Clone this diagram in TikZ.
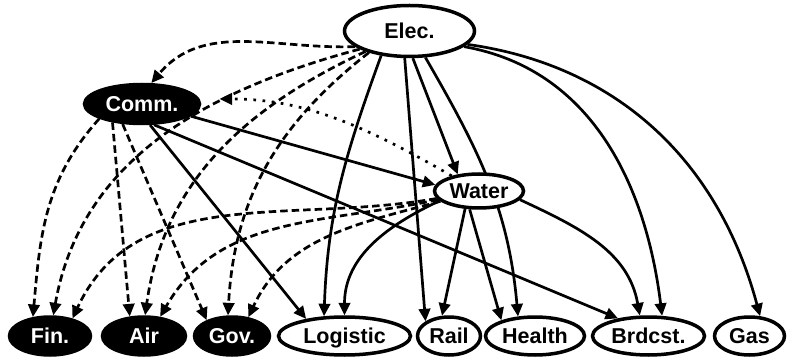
\documentclass[tikz,border=0pt]{standalone}
\usepackage{fontspec}
\setmainfont{Liberation Sans}
\usetikzlibrary{arrows.meta,shapes.geometric,backgrounds}
\begin{document}
\begin{tikzpicture}[x=1pt,y=1pt,
  nd/.style={ellipse,draw=black,line width=3.5pt,inner sep=0pt,
    text height=19.4pt,text depth=4pt,
    font=\bfseries\fontsize{21.5}{22}\selectfont},
  wn/.style={nd,fill=white,text=black},
  bn/.style={nd,fill=black,text=white},
  ed/.style={line width=2.7pt,-{Triangle[length=12.5pt,width=11.5pt]}},
  dsh/.style={ed,dash pattern=on 7.5pt off 4pt},
  dotedge/.style={ed,dash pattern=on 2.7pt off 6.5pt}]
\useasboundingbox (0,0) rectangle (787,-358);

\node[wn,minimum width=130pt,minimum height=51pt] (elec) at (409.5,-31) {Elec.};
\node[bn,minimum width=115pt,minimum height=39pt] (comm) at (142,-104) {Comm.};
\node[wn,minimum width=89pt,minimum height=34pt] (water) at (479,-191) {Water};
\node[bn,minimum width=81pt,minimum height=38pt] (fin) at (50,-336) {Fin.};
\node[bn,minimum width=83pt,minimum height=38pt] (air) at (144,-336) {Air};
\node[bn,minimum width=75pt,minimum height=38pt] (gov) at (232,-336) {Gov.};
\node[wn,minimum width=132pt,minimum height=38pt] (logistic) at (344.5,-336) {Logistic};
\node[wn,minimum width=63pt,minimum height=38pt] (rail) at (449,-336) {Rail};
\node[wn,minimum width=99pt,minimum height=38pt] (health) at (535,-336) {Health};
\node[wn,minimum width=112pt,minimum height=38pt] (brdcst) at (648.5,-336) {Brdcst.};
\node[wn,minimum width=70pt,minimum height=38pt] (gas) at (749.5,-336) {Gas};

\begin{pgfonlayer}{background}
% from Elec.
\draw[dsh] (elec.196) to[out=182,in=50] (comm.66);
\draw[dsh] (elec.200) to[out=195,in=80] (fin.81);
\draw[dsh] (elec.205) to[out=205,in=82] (air.87);
\draw[dsh] (elec.208) to[out=218,in=87] (gov.101);
\draw[ed] (elec.221) to[out=250,in=88] (logistic.136);
\draw[ed] (elec.260) -- (rail.148);
\draw[ed] (elec.277) -- (water.142);
\draw[ed] (elec.301) to[out=300,in=95] (health.131);
\draw[ed] (elec.344) to[out=350,in=97] (brdcst.56);
\draw[ed] (elec.347) to[out=352,in=105] (gas.62);
% from Comm.
\draw[dsh] (comm.199) to[out=228,in=85] (fin.132);
\draw[dsh] (comm.212) -- (air.126);
\draw[dsh] (comm.226) -- (gov.148);
\draw[ed] (comm.291) -- (logistic.156);
\draw[ed] (comm.346) -- (water.172);
\draw[ed] (comm.300) -- (brdcst.150);
% from Water
\draw[dotedge,shorten >=20pt] (water.151) to[out=150,in=0] (comm.5);
\draw[dsh] (water.190) to[out=190,in=65] (fin.38);
\draw[dsh] (water.192) to[out=192,in=60] (air.50);
\draw[dsh] (water.195) to[out=195,in=65] (gov.49);
\draw[ed] (water.194) to[out=205,in=90] (logistic.90);
\draw[ed] (water.232) -- (rail.109);
\draw[ed] (water.243) -- (health.155);
\draw[ed] (water.348) to[out=335,in=100] (brdcst.113);
\end{pgfonlayer}
\end{tikzpicture}
\end{document}
